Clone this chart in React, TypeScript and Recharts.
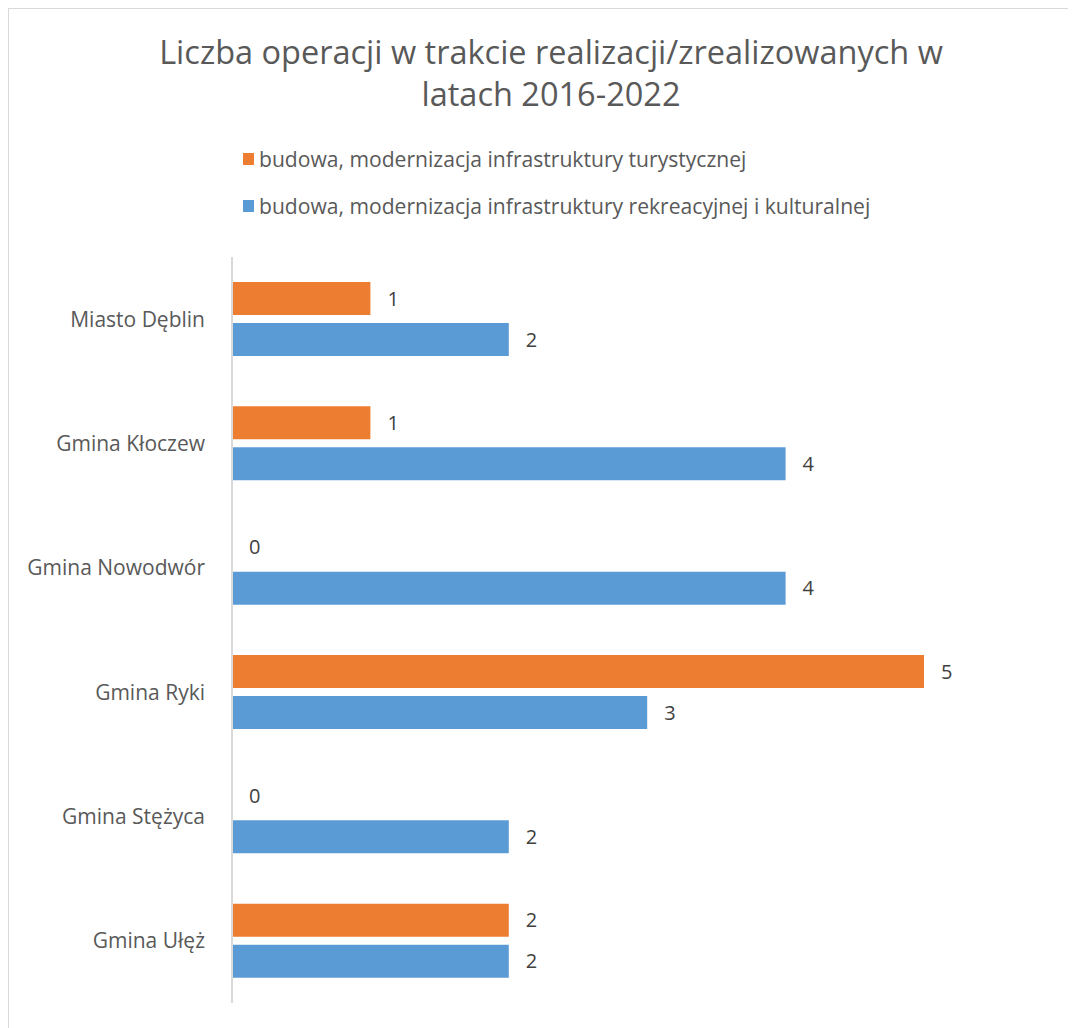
import React from "react";
import { BarChart, Bar, XAxis, YAxis, LabelList } from "recharts";

const gminy = ["Miasto Dęblin", "Gmina Kłoczew", "Gmina Nowodwór", "Gmina Ryki", "Gmina Stężyca", "Gmina Ułęż"];
const turystyczna = [1, 1, 0, 5, 0, 2];
const rekreacyjna = [2, 4, 4, 3, 2, 2];
const xTicks = [0, 1, 2, 3, 4, 5];

const nazwaTur = "budowa, modernizacja infrastruktury turystycznej";
const nazwaRek = "budowa, modernizacja infrastruktury rekreacyjnej i kulturalnej";

const ORANGE = "#ED7D31";
const BLUE = "#5B9BD5";
const FONT = "'Open Sans', sans-serif";

const data = gminy.map((g, i) => ({
  name: g,
  tur: turystyczna[i],
  rek: rekreacyjna[i],
}));

function LegendRow({ color, text, top }: { color: string; text: string; top: number }) {
  return (
    <div style={{ position: "absolute", left: 234, top, display: "flex", alignItems: "center" }}>
      <span style={{ width: 11, height: 12, background: color, display: "inline-block", marginRight: 5 }} />
      <span style={{ fontSize: 21.1, color: "#595959", lineHeight: "26px" }}>{text}</span>
    </div>
  );
}

export default function App() {
  return (
    <div
      style={{
        position: "relative",
        width: 1068,
        height: 1020,
        borderLeft: "1px solid #D9D9D9",
        borderTop: "1px solid #D9D9D9",
        boxSizing: "border-box",
        fontFamily: FONT,
        background: "#fff",
      }}
    >
      <div
        style={{
          position: "absolute",
          left: 0,
          width: 1084,
          top: 22,
          textAlign: "center",
          fontSize: 32.5,
          lineHeight: "42px",
          color: "#595959",
        }}
      >
        Liczba operacji w trakcie realizacji/zrealizowanych w
        <br />
        latach 2016-2022
      </div>
      <LegendRow color={ORANGE} text={nazwaTur} top={137} />
      <LegendRow color={BLUE} text={nazwaRek} top={184} />
      <div style={{ position: "absolute", left: -1, top: -1 }}>
        <BarChart
          width={1068}
          height={1020}
          data={data}
          layout="vertical"
          margin={{ top: 249, right: 152, bottom: 25, left: 0 }}
          barCategoryGap="20%"
          barGap={8}
        >
          <XAxis type="number" domain={[0, 5]} ticks={xTicks} hide />
          <YAxis
            type="category"
            dataKey="name"
            width={224}
            tickLine={false}
            axisLine={{ stroke: "#D9D9D9", strokeWidth: 2 }}
            tickMargin={21}
            tick={{ fill: "#595959", fontSize: 21, fontFamily: FONT }}
          />
          <Bar dataKey="tur" name={nazwaTur} fill={ORANGE} barSize={33} minPointSize={0.01} isAnimationActive={false}>
            <LabelList dataKey="tur" position="right" offset={17} fill="#404040" fontSize={20} fontFamily={FONT} />
          </Bar>
          <Bar dataKey="rek" name={nazwaRek} fill={BLUE} barSize={33} minPointSize={0.01} isAnimationActive={false}>
            <LabelList dataKey="rek" position="right" offset={17} fill="#404040" fontSize={20} fontFamily={FONT} />
          </Bar>
        </BarChart>
      </div>
    </div>
  );
}
